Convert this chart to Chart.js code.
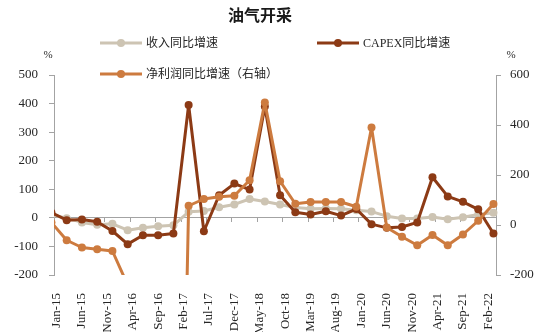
<!DOCTYPE html>
<html>
<head>
<meta charset="utf-8">
<script src="https://cdn.jsdelivr.net/npm/chart.js@4"></script>
<style>
  html, body { margin: 0; padding: 0; background: #fff; }
  .wrap { width: 550px; height: 332px; position: relative; }
</style>
</head>
<body>
<div class="wrap"><canvas id="oilChart"></canvas></div>
<script>
// quarterly points (Dec-14 sits just left of the axis, the line enters from the edge)
const quarters = [
  'Dec-14',
  'Mar-15', 'Jun-15', 'Sep-15', 'Dec-15',
  'Mar-16', 'Jun-16', 'Sep-16', 'Dec-16',
  'Mar-17', 'Jun-17', 'Sep-17', 'Dec-17',
  'Mar-18', 'Jun-18', 'Sep-18', 'Dec-18',
  'Mar-19', 'Jun-19', 'Sep-19', 'Dec-19',
  'Mar-20', 'Jun-20', 'Sep-20', 'Dec-20',
  'Mar-21', 'Jun-21', 'Sep-21', 'Dec-21',
  'Mar-22'
];

// 收入同比增速 (%)
const revenue = [
  11,
  -1, -16, -24, -21,
  -43, -35, -29, -26,
  21, 24, 37, 47,
  66, 57, 47, 36,
  32, 33, 32, 27,
  22, 6, -2, -2,
  3, -5, 2, 12,
  18
];

// CAPEX同比增速 (%)
const capex = [
  18,
  -8, -6, -14, -46,
  -92, -61, -61, -55,
  395, -47, 79, 120,
  99, 390, 79, 20,
  12, 23, 8, 31,
  -22, -35, -32, -16,
  142, 75, 56, 30,
  -55
];

// 净利润同比增速 (%, 右轴) - mid 2016 values run far below the axis
const netProfit = [
  10,
  -61, -90, -97, -104,
  -240, -600, -1200, -2800,
  77, 104, 113, 117,
  179, 490, 175, 85,
  92, 92, 92, 73,
  390, -10, -47, -81,
  -40, -81, -38, 17,
  84
];

// x axis: labels shown every 5 months
const tickLabels = [
  'Jan-15', 'Jun-15', 'Nov-15', 'Apr-16', 'Sep-16', 'Feb-17', 'Jul-17', 'Dec-17', 'May-18',
  'Oct-18', 'Mar-19', 'Aug-19', 'Jan-20', 'Jun-20', 'Nov-20', 'Apr-21', 'Sep-21', 'Feb-22'
];

const seriesNames = ['收入同比增速', 'CAPEX同比增速', '净利润同比增速（右轴）'];
const seriesColors = ['#cdc4b3', '#8c3a15', '#cd7b3f'];

// monthly category axis Dec-14 .. Mar-22
const monthNames = ['Jan','Feb','Mar','Apr','May','Jun','Jul','Aug','Sep','Oct','Nov','Dec'];
const months = ['Dec-14'];
for (let y = 15; y <= 22; y++) {
  for (let m = 0; m < 12; m++) {
    months.push(monthNames[m] + '-' + y);
    if (y === 22 && m === 2) break;
  }
}

function toPoints(vals) {
  return quarters.map((q, i) => ({ x: q, y: vals[i] }));
}

const numFont = { family: "'Liberation Serif', 'Noto Sans CJK SC', serif", size: 13 };
const axisGray = '#a3a3a3';
const textColor = '#262626';

function lineSet(idx, vals, axis, order) {
  return {
    label: seriesNames[idx],
    data: toPoints(vals),
    yAxisID: axis,
    borderColor: seriesColors[idx],
    backgroundColor: seriesColors[idx],
    pointBackgroundColor: seriesColors[idx],
    pointBorderWidth: 0,
    pointRadius: 4,
    borderWidth: 3,
    borderJoinStyle: 'round',
    tension: 0,
    order: order
  };
}

// title, legend and unit labels drawn on the canvas
const decorPlugin = {
  id: 'decor',
  afterDraw(chart) {
    const ctx = chart.ctx;
    ctx.save();
    ctx.fillStyle = '#1a1a1a';
    ctx.font = "bold 16px 'Noto Sans CJK SC', sans-serif";
    ctx.textAlign = 'center';
    ctx.textBaseline = 'middle';
    ctx.fillText('油气开采', 260, 15);

    const items = [
      { i: 0, x: 100, y: 43 },
      { i: 1, x: 317, y: 43 },
      { i: 2, x: 100, y: 74 }
    ];
    items.forEach(it => {
      ctx.strokeStyle = seriesColors[it.i];
      ctx.lineWidth = 3;
      ctx.beginPath();
      ctx.moveTo(it.x, it.y);
      ctx.lineTo(it.x + 42, it.y);
      ctx.stroke();
      ctx.fillStyle = seriesColors[it.i];
      ctx.beginPath();
      ctx.arc(it.x + 21, it.y, 4, 0, Math.PI * 2);
      ctx.fill();
      ctx.fillStyle = textColor;
      ctx.font = "12px 'Liberation Serif', 'Noto Sans CJK SC', serif";
      ctx.textAlign = 'left';
      ctx.fillText(seriesNames[it.i], it.x + 46, it.y + 1);
    });

    ctx.font = "11px 'Liberation Serif', serif";
    ctx.fillStyle = textColor;
    ctx.textAlign = 'center';
    const yl = chart.scales.y, yr = chart.scales.y1;
    ctx.fillText('%', yl.right - 6, yl.top - 20);
    ctx.fillText('%', yr.left + 15, yr.top - 20);
    ctx.restore();
  }
};

new Chart(document.getElementById('oilChart'), {
  type: 'line',
  data: {
    labels: months,
    datasets: [
      lineSet(0, revenue, 'y', 3),
      lineSet(1, capex, 'y', 2),
      lineSet(2, netProfit, 'y1', 1)
    ]
  },
  plugins: [decorPlugin],
  options: {
    responsive: true,
    maintainAspectRatio: false,
    animation: false,
    devicePixelRatio: 1,
    layout: { padding: { top: 75, left: 0, right: 0, bottom: 0 } },
    plugins: {
      legend: { display: false },
      title: { display: false },
      tooltip: { enabled: false }
    },
    scales: {
      x: {
        type: 'category',
        min: 'Jan-15',
        offset: true,
        position: 'bottom',
        grid: { display: false },
        border: { display: false },
        ticks: {
          autoSkip: false,
          minRotation: 90,
          maxRotation: 90,
          padding: 10,
          color: textColor,
          font: numFont,
          callback: function (value) {
            const lab = this.getLabelForValue(value);
            return tickLabels.includes(lab) ? lab : '';
          }
        },
        afterFit: s => { s.height = 57; }
      },
      x0: {
        type: 'category',
        min: 'Jan-15',
        offset: true,
        position: { y: 0 },
        ticks: { display: false },
        grid: {
          display: true,
          offset: true,
          drawOnChartArea: false,
          drawTicks: true,
          tickLength: 4,
          color: 'rgba(0,0,0,0)',
          tickColor: c => (c.index % 5 === 0 ? axisGray : 'rgba(0,0,0,0)')
        },
        border: { display: true, color: axisGray, width: 1 }
      },
      y: {
        position: 'left',
        min: -200,
        max: 500,
        ticks: { stepSize: 100, padding: 11, color: textColor, font: numFont },
        grid: { drawOnChartArea: false, tickLength: 5, color: axisGray },
        border: { color: axisGray },
        afterFit: s => { s.width = 54; }
      },
      y1: {
        position: 'right',
        min: -200,
        max: 600,
        ticks: { stepSize: 200, padding: 9, color: textColor, font: numFont },
        grid: { drawOnChartArea: false, tickLength: 5, color: axisGray },
        border: { color: axisGray },
        afterFit: s => { s.width = 54; }
      }
    }
  }
});
</script>
</body>
</html>
